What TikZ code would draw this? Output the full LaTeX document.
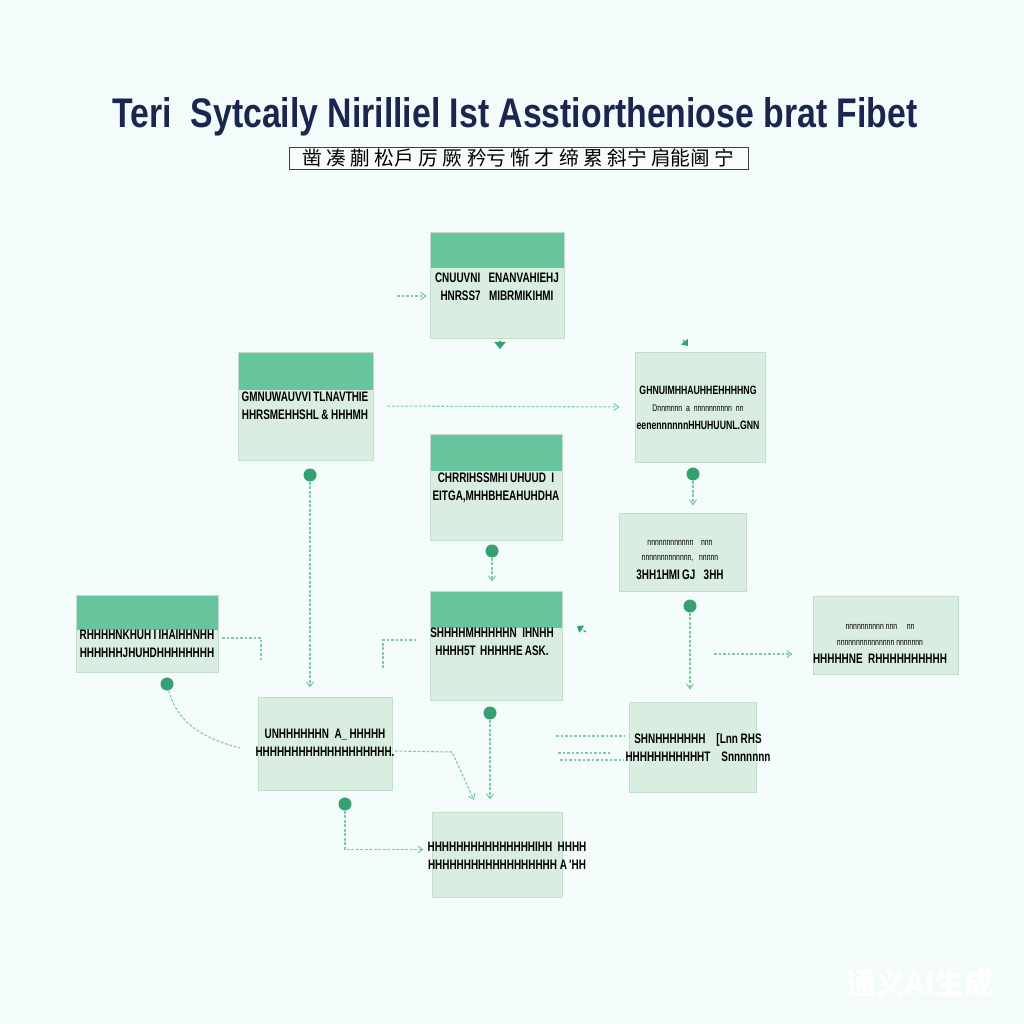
\documentclass[tikz,border=0pt]{standalone}
\usepackage{fontspec}
\usepackage{graphicx}
\setmainfont{Liberation Sans}
\newfontfamily\narrowfont[FakeStretch=0.72]{Liberation Sans}
\newfontfamily\cjkfont{Noto Sans CJK SC}
\usetikzlibrary{arrows.meta,positioning,calc}
\newlength\pxl
\setlength\pxl{0.025cm}
\newcommand\thinline{\fontsize{6.8}{8}\selectfont\mdseries}
\definecolor{bgcol}{HTML}{F4FBFB}
\definecolor{hdrgreen}{HTML}{67C49D}
\definecolor{boxfill}{HTML}{D9EDE1}
\definecolor{boxline}{HTML}{C2DDCC}
\definecolor{dotgreen}{HTML}{35A072}
\definecolor{linkgreen}{HTML}{7FCB9F}
\definecolor{navy}{HTML}{1B2650}

\begin{document}
\begin{tikzpicture}[x=0.025cm, y=-0.025cm,
    box/.style={draw=boxline, line width=0.6pt, fill=boxfill, inner sep=0},
    hbox/.style={box, path picture={
        \fill[hdrgreen] (path picture bounding box.north west)
          rectangle ([yshift=-#1\pxl]path picture bounding box.north east);}},
    hbox/.default=36,
    sz/.style 2 args={minimum width=#1\pxl, minimum height=#2\pxl},
    txt/.style={font=\narrowfont\bfseries\fontsize{9.8}{12.8}\selectfont, align=center, inner sep=0, text=black},
    dot/.style={circle, fill=dotgreen, inner sep=0, minimum size=13\pxl},
    line/.style={draw=linkgreen, line width=0.75pt, dash pattern=on 2pt off 1.2pt},
    link/.style={line, -{Straight Barb[length=3.5pt, width=5pt]}}
  ]
  % background
  \fill[bgcol] (0,0) rectangle (1024,1024);
  \useasboundingbox (0,0) rectangle (1024,1024);

  % title
  \node[text=navy, inner sep=0] (title) at (515,117)
    {\resizebox{805\pxl}{30\pxl}{\bfseries Teri\ \ Sytcaily Nirilliel Ist Asstiortheniose brat Fibet}};
  \node[draw=black!75, fill=white!85!boxfill, line width=0.7pt, sz={459}{22}, inner sep=0] (sub) at (518.5,158)
    {\resizebox{432\pxl}{!}{\cjkfont 凿\ 凑\ 蒯\ 松戶\ 厉\ 厥\ 矜亏\ 惭\ 才\ 缔\ 累\ 斜宁\ 肩能阃\ 宁}};

  % boxes
  \node[hbox, sz={134}{106}] (A) at (497,285) {};
  \node[hbox=38, sz={135}{108}] (B) at (305.5,406) {};
  \node[box, sz={130}{110}] (C) at (700,407) {};
  \node[hbox=37, sz={132}{106}] (D) at (496,487) {};
  \node[box, sz={127}{78}] (E) at (682.5,552) {};
  \node[hbox=35, sz={142}{77}] (F) at (147,633.5) {};
  \node[hbox=37, sz={132}{109}] (G) at (496,645.5) {};
  \node[box, sz={145}{78}] (H) at (885.5,635) {};
  \node[box, sz={134}{93}] (I) at (325,743.5) {};
  \node[box, sz={127}{90}] (J) at (692.5,747) {};
  \node[box, sz={130}{85}] (K) at (497,854.5) {};

  % box texts
  \node[txt] (At) at (497,287) {CNUUVNI\ \ \ ENANVAHIEHJ\\HNRSS7\ \ \ MIBRMIKIHMI};
  \node[txt] (Bt) at (305,405.5) {GMNUWAUVVI\,TLNAVTHIE\\HHRSMEHHSHL\,\&\ HHHMH};
  \node[txt, font=\narrowfont\bfseries\fontsize{8.6}{12.5}\selectfont] (Ct) at (698,407.5)
    {GHNUIMHHAUHHEHHHHNG\\{\thinline Dnnmnnn\ \ a\ \ nnnnnnnnnn\ \ nn}\\eenennnnnnHHUHUUNL.GNN};
  \node[txt] (Dt) at (496,488) {CHRRIHSSMHI\,UHUUD\ \ I\\EITGA,MHHBHEAHUHDHA};
  \node[txt] (Et) at (680,560) {{\thinline nnnnnnnnnnnn\ \ \ \ nnn}\\[-2pt]{\thinline nnnnnnnnnnnnn,\ \ \ nnnnn}\\[1pt]3HH1HMI\,GJ\ \ \ 3HH};
  \node[txt] (Ht) at (880,644) {{\thinline nnnnnnnnnn\ nnn\ \ \ \ \ nn}\\[-2pt]{\thinline nnnnnnnnnnnnnnn\ nnnnnnn}\\[0pt]HHHHHNE\ \ RHHHHHHHHHH};
  \node[txt] (Ft) at (147,643.5) {RHHHHNKHUH\,I\,IHAIHHNHH\\HHHHHHJHUHDHHHHHHHH};
  \node[txt] (Gt) at (492,642) {SHHHHMHHHHHN\ \ IHNHH\\HHHH5T\,\,HHHHHE\,ASK.};
  \node[txt] (It) at (325,743) {UNHHHHHHN\ \ \textbf{A}\_\,HHHHH\\HHHHHHHHHHHHHHHHHHH.};
  \node[txt] (Jt) at (698,748) {SHNHHHHHHH\ \ \ \ [Lnn\ RHS\\HHHHHHHHHHHT\ \ \ \ Snnnnnnn};
  \node[txt] (Kt) at (507,856) {HHHHHHHHHHHHHHHIHH\ \ HHHH\\HHHHHHHHHHHHHHHHHH\ A\,'HH};

  % dots
  \node[dot] (dB) at (310,475) {};
  \node[dot] (dC) at (693,474) {};
  \node[dot] (dD) at (492,551) {};
  \node[dot] (dE) at (690,606) {};
  \node[dot] (dF) at (167,684) {};
  \node[dot] (dG) at (490,713) {};
  \node[dot] (dI) at (345,804) {};

  % free ends
  \coordinate (a0) at (397,296);
  \coordinate (as1) at (500,341);
  \coordinate (as2) at (500,349);
  \coordinate (cs1) at (683,340);
  \coordinate (cs2) at (688,346);
  \coordinate (gs1) at (586,632);
  \coordinate (gs2) at (577,626);
  \coordinate (h0) at (714,654);
  \coordinate (f0) at (222,638);
  \coordinate (f1) at (261,662);
  \coordinate (fI) at (240,748);
  \coordinate (g0) at (383,668);
  \coordinate (g1) at (418,640);
  \coordinate (j1) at (556,736);
  \coordinate (j2) at (558,753);
  \coordinate (j3) at (560,760);
  \coordinate (i0) at (395,751);
  \coordinate (i1) at (452,752);
  \coordinate (k0) at (474,800);

  % connectors
  \draw[link, shorten >=3\pxl] (a0) -- (a0 -| A.west);
  \draw[line, -{Triangle[length=5pt, width=8pt]}, draw=dotgreen, fill=dotgreen] (as1) -- (as2);
  \draw[line, -{Triangle[length=4pt, width=6pt]}, draw=dotgreen, fill=dotgreen] (cs1) -- (cs2);
  \draw[line, -{Triangle[length=4pt, width=6pt]}, draw=dotgreen, fill=dotgreen] (gs1) -- (gs2);
  \draw[link, shorten <=14\pxl, shorten >=15\pxl] (B.east) -- (C.west);
  \draw[link, shorten >=9\pxl] (dB) -- (dB |- I.north);
  \draw[link, shorten >=7\pxl] (dC) -- (dC |- E.north);
  \draw[link, shorten >=9\pxl] (dD) -- (dD |- G.north);
  \draw[link, shorten >=12\pxl] (dE) -- (dE |- J.north);
  \draw[link, shorten >=20\pxl] (h0) -- (h0 -| H.west);
  \draw[line] (f0) -| (f1);
  \draw[line] (g0) |- (g1);
  \draw[line] (dF) to[out=-75, in=165] (fI);
  \draw[line, shorten >=4\pxl] (j1) -- (j1 -| J.west);
  \draw[line, shorten >=19\pxl] (j2) -- (j2 -| J.west);
  \draw[line, shorten >=5\pxl] (j3) -- (j3 -| J.west);
  \draw[link] (i0) -- (i1) -- (k0);
  \draw[link, shorten >=12\pxl] (dG) -- (dG |- K.north);
  \draw[link, shorten >=8\pxl] (dI) |- ([yshift=5\pxl]K.west);

  % watermark
  \node[text=white, font=\cjkfont\bfseries\fontsize{21}{21}\selectfont, inner sep=0] (mark) at (920,983) {通义AI生成};
\end{tikzpicture}
\end{document}
